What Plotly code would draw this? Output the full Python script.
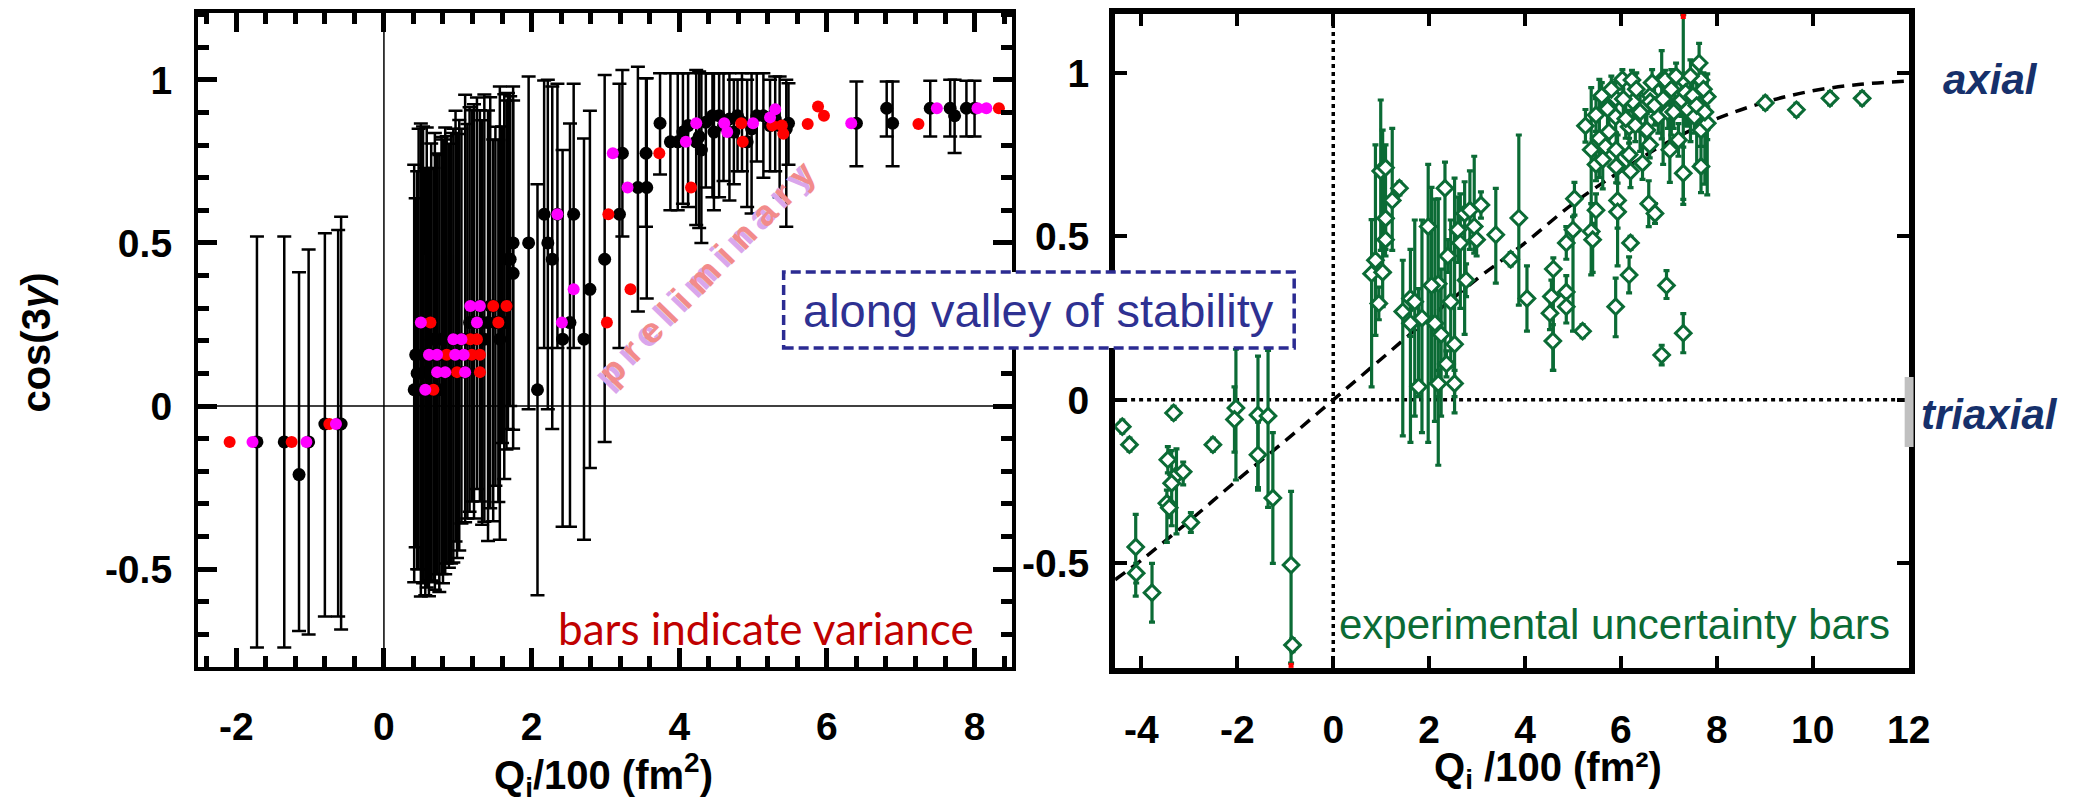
import plotly.graph_objects as go

# ---------------- LEFT PANEL DATA ----------------
# black points (with variance bars)
lb_q = [-1.72, -1.35, -1.15, -1.02, -0.80, -0.58, -0.62,
        0.41, 0.43, 0.50, 0.56, 0.61, 0.67, 0.72, 0.83, 0.85, 0.94, 0.99, 1.05, 1.10, 1.19,
        1.26, 1.30, 1.41, 1.48, 1.55, 1.57, 1.66, 1.68, 1.75, 1.75, 1.96, 2.08, 2.17, 2.22,
        2.28, 2.35, 2.42, 2.52, 2.57, 2.71, 2.79, 2.99, 3.19, 3.23, 3.44, 3.56, 3.55, 3.74,
        3.88, 3.98, 4.23, 4.27, 4.30, 4.45, 4.54, 4.47, 4.74, 4.79, 4.92, 5.05, 5.14, 5.23,
        5.48, 6.40, 6.81, 6.89, 7.40, 7.67, 7.73, 7.89, 8.00,
        0.45, 0.47, 0.53, 0.58, 0.64, 0.69, 0.75, 0.78, 0.80, 0.88, 0.91, 0.97, 1.02, 1.13,
        1.16, 1.22, 1.33, 1.36, 1.44, 1.51, 1.60, 1.63, 1.71,
        4.05, 4.12, 4.36, 4.60, 4.68, 4.85, 4.98, 5.30, 5.36, 5.45]
lb_v = [-0.11, -0.11, -0.21, -0.11, -0.055, -0.055, -0.055,
        0.05, 0.157, 0.256, 0.05, 0.157, 0.05, 0.104, 0.104, 0.157, 0.205, 0.104, 0.205, 0.104, 0.157,
        0.256, 0.307, 0.256, 0.307, 0.256, 0.205, 0.307, 0.45, 0.50, 0.407, 0.50, 0.05, 0.588, 0.50,
        0.45, 0.588, 0.205, 0.256, 0.588, 0.205, 0.358, 0.45, 0.588, 0.775, 0.67, 0.67, 0.775, 0.867,
        0.81, 0.81, 0.81, 0.826, 0.785, 0.89, 0.89, 0.84, 0.84, 0.89, 0.81, 0.89, 0.89, 0.86,
        0.867, 0.867, 0.913, 0.867, 0.913, 0.913, 0.89, 0.913, 0.913,
        0.10, 0.05, 0.157, 0.104, 0.205, 0.157, 0.05, 0.205, 0.157, 0.104, 0.157, 0.205, 0.157, 0.205,
        0.256, 0.205, 0.256, 0.205, 0.307, 0.256, 0.307, 0.256, 0.45,
        0.84, 0.86, 0.87, 0.86, 0.88, 0.87, 0.85, 0.88, 0.86, 0.85]
lb_up = [0.63, 0.63, 0.62, 0.59, 0.585, 0.635, 0.595,
         0.69, 0.48, 0.61, 0.68, 0.57, 0.68, 0.67, 0.75, 0.67, 0.645, 0.73, 0.645, 0.85, 0.75,
         0.69, 0.60, 0.65, 0.51, 0.56, 0.775, 0.63, 0.51, 0.48, 0.53, 0.51, 0.63, 0.41, 0.50,
         0.53, 0.40, 0.58, 0.61, 0.40, 0.615, 0.547, 0.565, 0.40, 0.255, 0.37, 0.335, 0.23, 0.153,
         0.21, 0.21, 0.22, 0.20, 0.235, 0.13, 0.13, 0.18, 0.16, 0.11, 0.19, 0.13, 0.13, 0.14,
         0.123, 0.128, 0.082, 0.128, 0.084, 0.087, 0.11, 0.084, 0.084,
         0.62, 0.80, 0.70, 0.75, 0.60, 0.68, 0.72, 0.62, 0.66, 0.70, 0.68, 0.70, 0.72, 0.66,
         0.66, 0.72, 0.62, 0.75, 0.64, 0.60, 0.55, 0.70, 0.50,
         0.18, 0.16, 0.15, 0.16, 0.14, 0.15, 0.17, 0.13, 0.15, 0.15]
lb_dn = [0.63, 0.63, 0.48, 0.59, 0.59, 0.63, 0.59,
         0.59, 0.59, 0.84, 0.63, 0.74, 0.59, 0.62, 0.62, 0.64, 0.685, 0.57, 0.565, 0.46, 0.45,
         0.51, 0.60, 0.67, 0.66, 0.55, 0.615, 0.44, 0.52, 0.63, 0.48, 0.51, 0.63, 0.41, 0.51,
         0.52, 0.41, 0.575, 0.626, 0.41, 0.615, 0.548, 0.56, 0.41, 0.255, 0.38, 0.34, 0.225, 0.157,
         0.21, 0.21, 0.255, 0.28, 0.285, 0.25, 0.25, 0.24, 0.16, 0.17, 0.20, 0.14, 0.19, 0.14,
         0.127, 0.132, 0.087, 0.132, 0.087, 0.087, 0.114, 0.087, 0.087,
         0.60, 0.55, 0.70, 0.66, 0.74, 0.72, 0.62, 0.72, 0.70, 0.60, 0.64, 0.62, 0.60, 0.55,
         0.58, 0.55, 0.62, 0.56, 0.62, 0.50, 0.42, 0.48, 0.45,
         0.22, 0.25, 0.20, 0.17, 0.25, 0.15, 0.26, 0.16, 0.22, 0.30]

# red points
lr_q = [-2.09, -1.25, -0.74, 0.67, 0.63, 0.85, 1.19, 1.30, 0.99, 1.30, 1.17, 1.26, 1.55, 1.48,
        1.66, 3.04, 3.02, 3.34, 3.73, 4.16, 4.84, 4.86, 5.26, 5.39, 5.41, 5.74, 5.88, 5.96,
        7.24, 8.33]
lr_v = [-0.11, -0.11, -0.055, 0.05, 0.256, 0.157, 0.157, 0.157, 0.104, 0.104, 0.205, 0.205, 0.256,
        0.307, 0.307, 0.588, 0.256, 0.358, 0.775, 0.67, 0.867, 0.81, 0.86, 0.86, 0.835, 0.865,
        0.918, 0.89, 0.865, 0.913]

# magenta points
lm_q = [-1.78, -1.05, -0.65, 0.56, 0.50, 0.61, 0.72, 0.965, 1.08, 0.72, 0.83, 1.10, 0.94, 1.05,
        1.26, 1.17, 1.30, 2.35, 2.57, 2.41, 3.10, 3.30, 4.09, 4.23, 4.61, 4.65, 5.00, 5.23, 5.30,
        6.33, 7.49, 8.04, 8.16]
lm_v = [-0.11, -0.11, -0.055, 0.05, 0.256, 0.157, 0.157, 0.157, 0.157, 0.104, 0.104, 0.104, 0.205,
        0.205, 0.256, 0.307, 0.307, 0.588, 0.358, 0.256, 0.775, 0.67, 0.81, 0.867, 0.867, 0.84,
        0.867, 0.885, 0.91, 0.867, 0.913, 0.913, 0.913]

# ---------------- RIGHT PANEL DATA ----------------
r_q = [-4.40, -4.25, -3.33, -3.45, -3.27, -3.37, -3.13, -3.47, -3.42, -2.97, -2.51, -4.12, -4.11,
       -3.78, -2.03, -2.06, -1.57, -1.57, -1.36, -1.26, -0.88, -0.85,
       0.80, 0.88, 0.99, 1.03, 0.95, 1.09, 1.09, 1.09, 1.23, 1.38, 1.45, 1.61, 1.61, 1.78, 1.98,
       2.12, 2.19, 2.19, 2.33, 2.36, 2.39, 2.53, 2.53, 2.60, 2.74, 2.77, 2.94, 2.99, 3.08, 3.39,
       3.70, 3.87, 4.04, 4.59, 4.55, 4.52, 4.58, 4.86, 4.86, 4.86, 5.03, 5.00, 5.20, 5.38, 5.48,
       5.41, 5.89, 6.17, 6.20, 6.58, 6.71, 6.95, 6.85, 7.30, 5.93, 5.93, 5.93,
       5.26, 5.38, 5.48, 5.48, 5.55, 5.68, 5.89, 5.89, 5.90, 5.90, 6.03, 6.17, 6.17, 6.20, 6.23,
       6.25, 6.45, 6.51, 6.54, 6.61, 6.61, 6.78, 6.85, 6.92, 6.98, 6.98, 7.02, 7.20, 7.26, 7.30,
       7.30, 7.39, 7.53, 7.63, 7.67, 7.67, 7.67, 7.80, 7.80,
       9.01, 9.66, 10.36, 11.03,
       5.60, 5.72, 5.80, 6.05, 6.10, 6.32, 6.40, 6.65, 6.70, 6.88, 7.05, 7.10, 7.15, 7.35, 7.45,
       7.50, 7.58, 7.72, 7.75, 6.30, 5.75, 5.62, 6.60,
       1.70, 1.85, 2.05, 2.25, 2.45, 2.65, 2.85]
r_v = [-0.082, -0.137, -0.04, -0.183, -0.23, -0.255, -0.22, -0.316, -0.33, -0.375, -0.137, -0.45,
       -0.53, -0.59, -0.025, -0.06, -0.046, -0.168, -0.049, -0.30, -0.505, -0.75,
       0.386, 0.427, 0.70, 0.39, 0.295, 0.71, 0.555, 0.49, 0.61, 0.647, 0.27, 0.31, 0.234, 0.04,
       0.53, 0.234, 0.355, 0.05, 0.647, 0.11, 0.44, 0.17, 0.05, 0.52, 0.57, 0.366, 0.53, 0.49,
       0.596, 0.505, 0.43, 0.556, 0.31, 0.40, 0.316, 0.265, 0.18, 0.48, 0.33, 0.285, 0.615, 0.52,
       0.21, 0.515, 0.58, 0.49, 0.285, 0.382, 0.48, 0.60, 0.57, 0.35, 0.137, 0.204, 0.61, 0.575,
       0.713,
       0.838, 0.765, 0.72, 0.871, 0.80, 0.775, 0.922, 0.866, 0.765, 0.714, 0.98, 0.835, 0.75, 0.699,
       0.978, 0.912, 0.724, 0.825, 0.825, 0.93, 0.912, 0.866, 0.978, 0.978, 0.927, 0.88, 0.765,
       0.795, 0.917, 0.978, 0.693, 0.887, 0.866, 1.03, 0.978, 0.825, 0.714, 0.846, 0.927,
       0.908, 0.887, 0.922, 0.922,
       0.93, 0.89, 0.95, 0.92, 0.86, 0.95, 0.88, 0.97, 0.90, 0.92, 0.95, 0.88, 0.99, 0.94, 0.99,
       0.93, 0.90, 0.95, 0.88, 0.84, 0.82, 0.735, 0.78,
       0.30, 0.25, 0.35, 0.20, 0.30, 0.48, 0.58]
r_up = [0.02, 0.02, 0.02, 0.04, 0.08, 0.10, 0.03, 0.04, 0.03, 0.03, 0.02, 0.10, 0.03, 0.09, 0.18,
        0.10, 0.18, 0.10, 0.20, 0.20, 0.225, 0.02,
        0.165, 0.353, 0.217, 0.435, 0.05, 0.07, 0.05, 0.05, 0.22, 0.02, 0.157, 0.15, 0.04, 0.30,
        0.19, 0.38, 0.26, 0.04, 0.08, 0.04, 0.05, 0.508, 0.04, 0.10, 0.097, 0.05, 0.215, 0.05,
        0.04, 0.142, 0.02, 0.254, 0.10, 0.034, 0.05, 0.05, 0.05, 0.05, 0.05, 0.05, 0.05, 0.04,
        0.02, 0.085, 0.05, 0.05, 0.087, 0.055, 0.02, 0.07, 0.03, 0.045, 0.03, 0.06, 0.20, 0.05,
        0.05,
        0.05, 0.19, 0.05, 0.05, 0.18, 0.05, 0.05, 0.05, 0.05, 0.05, 0.03, 0.05, 0.05, 0.05, 0.03,
        0.05, 0.05, 0.05, 0.05, 0.03, 0.03, 0.05, 0.09, 0.03, 0.05, 0.05, 0.09, 0.05, 0.05, 0.20,
        0.08, 0.05, 0.05, 0.06, 0.05, 0.05, 0.11, 0.05, 0.07,
        0.02, 0.02, 0.02, 0.02,
        0.04, 0.05, 0.04, 0.05, 0.06, 0.05, 0.06, 0.04, 0.06, 0.05, 0.06, 0.05, 0.04, 0.05, 0.05,
        0.06, 0.07, 0.05, 0.08, 0.05, 0.05, 0.05, 0.04,
        0.25, 0.30, 0.30, 0.20, 0.25, 0.15, 0.12]
r_dn = [0.02, 0.02, 0.02, 0.04, 0.18, 0.13, 0.04, 0.12, 0.03, 0.03, 0.02, 0.15, 0.03, 0.09, 0.22,
        0.10, 0.23, 0.10, 0.28, 0.20, 0.30, 0.02,
        0.346, 0.23, 0.243, 0.105, 0.05, 0.25, 0.05, 0.05, 0.153, 0.02, 0.38, 0.44, 0.04, 0.03,
        0.66, 0.30, 0.555, 0.04, 0.537, 0.04, 0.05, 0.21, 0.04, 0.10, 0.37, 0.05, 0.081, 0.05,
        0.04, 0.148, 0.02, 0.266, 0.10, 0.31, 0.05, 0.05, 0.09, 0.05, 0.05, 0.05, 0.05, 0.31,
        0.02, 0.133, 0.07, 0.10, 0.092, 0.055, 0.02, 0.07, 0.03, 0.04, 0.03, 0.06, 0.20, 0.05,
        0.05,
        0.05, 0.25, 0.05, 0.05, 0.12, 0.05, 0.05, 0.05, 0.05, 0.05, 0.03, 0.05, 0.05, 0.05, 0.03,
        0.05, 0.05, 0.05, 0.05, 0.03, 0.03, 0.05, 0.18, 0.03, 0.05, 0.05, 0.10, 0.05, 0.05, 0.38,
        0.08, 0.05, 0.05, 0.10, 0.05, 0.05, 0.08, 0.05, 0.30,
        0.02, 0.02, 0.02, 0.02,
        0.04, 0.08, 0.04, 0.05, 0.06, 0.05, 0.12, 0.04, 0.06, 0.20, 0.14, 0.05, 0.04, 0.10, 0.20,
        0.06, 0.18, 0.05, 0.22, 0.05, 0.05, 0.09, 0.04,
        0.35, 0.35, 0.30, 0.25, 0.20, 0.20, 0.12]

# red end markers (clipped bars)
rr_q = [7.30, -0.88]
rr_v = [1.172, -0.812]

# dashed trend curve
c_q = [-4.55, -4, -3, -2, -1, 0, 1, 2, 3, 4, 5, 6, 7, 8, 9, 10, 11, 12]
c_v = [-0.55, -0.49, -0.37, -0.245, -0.125, 0.0, 0.125, 0.25, 0.37, 0.48, 0.60, 0.70, 0.79,
       0.86, 0.91, 0.945, 0.965, 0.975]

W, H = 2083, 803
GREEN = "#0b6b35"
FONT = "Liberation Sans, Arial, sans-serif"


def px(x):
    return x / W


def py(y):
    return 1 - y / H


fig = go.Figure()

# left panel traces
fig.add_trace(go.Scatter(
    x=lb_q, y=lb_v, mode="markers", xaxis="x", yaxis="y",
    marker=dict(color="black", size=13),
    error_y=dict(type="data", symmetric=False, array=lb_up, arrayminus=lb_dn,
                 color="black", thickness=2.5, width=7),
    showlegend=False))
fig.add_trace(go.Scatter(
    x=lr_q, y=lr_v, mode="markers", xaxis="x", yaxis="y",
    marker=dict(color="#ff0000", size=12), showlegend=False))
fig.add_trace(go.Scatter(
    x=lm_q, y=lm_v, mode="markers", xaxis="x", yaxis="y",
    marker=dict(color="#ff00ff", size=12), showlegend=False))

# right panel traces
fig.add_trace(go.Scatter(
    x=c_q, y=c_v, mode="lines", xaxis="x2", yaxis="y2",
    line=dict(color="black", width=3.5, dash="12px,8px", shape="spline"),
    showlegend=False))
fig.add_trace(go.Scatter(
    x=r_q, y=r_v, mode="markers", xaxis="x2", yaxis="y2",
    marker=dict(symbol="diamond", color="white", size=12,
                line=dict(color=GREEN, width=3)),
    error_y=dict(type="data", symmetric=False, array=r_up, arrayminus=r_dn,
                 color=GREEN, thickness=3.2, width=3),
    showlegend=False))
fig.add_trace(go.Scatter(
    x=rr_q, y=rr_v, mode="markers", xaxis="x2", yaxis="y2",
    marker=dict(symbol="square", color="#ff0000", size=5), showlegend=False))

tickfont = dict(family=FONT, size=39, color="black", weight="bold")

fig.update_layout(
    width=W, height=H,
    margin=dict(l=0, r=0, t=0, b=0),
    paper_bgcolor="white", plot_bgcolor="white",
    xaxis=dict(domain=[px(200), px(1023)], range=[-2.52, 8.51],
               tickvals=[-2, 0, 2, 4, 6, 8], ticktext=["-2", "0", "2", "4", "6", "8"],
               ticks="inside", ticklen=19, tickwidth=4.5, tickcolor="black",
               showline=True, linewidth=4, linecolor="black", mirror="allticks",
               minor=dict(ticks="inside", ticklen=11, tickwidth=4.5, dtick=0.4, tick0=0,
                          tickcolor="black", showgrid=False),
               showgrid=False, zeroline=False, tickfont=tickfont,
               ticklabelstandoff=22, anchor="y"),
    yaxis=dict(domain=[py(667), py(13)], range=[-0.80, 1.205],
               tickvals=[-0.5, 0, 0.5, 1], ticktext=["-0.5", "0", "0.5", "1"],
               ticks="inside", ticklen=19, tickwidth=4.5, tickcolor="black",
               showline=True, linewidth=4, linecolor="black", mirror="allticks",
               minor=dict(ticks="inside", ticklen=11, tickwidth=4.5, dtick=0.1, tick0=0,
                          tickcolor="black", showgrid=False),
               showgrid=False, zeroline=False, tickfont=tickfont,
               ticklabelstandoff=14, anchor="x"),
    xaxis2=dict(domain=[px(1127), px(1929)], range=[-4.55, 12],
                tickvals=[-4, -2, 0, 2, 4, 6, 8, 10, 12],
                ticktext=["-4", "-2", "0", "2", "4", "6", "8", "10", "12"],
                ticks="inside", ticklen=12, tickwidth=4, tickcolor="black",
                showline=True, linewidth=6, linecolor="black", mirror="allticks",
                showgrid=False, zeroline=False, tickfont=tickfont,
                ticklabelstandoff=22, anchor="y2"),
    yaxis2=dict(domain=[py(668), py(14)], range=[-0.82, 1.18],
                tickvals=[-0.5, 0, 0.5, 1], ticktext=["-0.5", "0", "0.5", "1"],
                ticks="inside", ticklen=12, tickwidth=4, tickcolor="black",
                showline=True, linewidth=6, linecolor="black", mirror="allticks",
                showgrid=False, zeroline=False, tickfont=tickfont,
                ticklabelstandoff=12, anchor="x2"),
)

shapes = [
    # left panel zero lines
    dict(type="line", xref="x", yref="y domain", x0=0, x1=0, y0=0, y1=1,
         line=dict(color="black", width=1.5), layer="below"),
    dict(type="line", xref="x domain", yref="y", x0=0, x1=1, y0=0, y1=0,
         line=dict(color="black", width=1.5), layer="below"),
    # right panel dotted lines
    dict(type="line", xref="x2", yref="y2 domain", x0=0, x1=0, y0=0, y1=1,
         line=dict(color="black", width=3.5, dash="4px,4px"), layer="below"),
    dict(type="line", xref="x2 domain", yref="y2", x0=0, x1=1, y0=0, y1=0,
         line=dict(color="black", width=3.5, dash="4px,4px"), layer="below"),
    # gray patch on right frame near 'triaxial'
    dict(type="rect", xref="paper", yref="paper", x0=px(1925), x1=px(1934),
         y0=py(447), y1=py(377), fillcolor="#c0c0c0", line=dict(width=0), layer="above"),
    # dashed box
    dict(type="rect", xref="paper", yref="paper", x0=px(792), x1=px(1308),
         y0=py(348), y1=py(272), fillcolor="white",
         line=dict(color="#2b2b92", width=3.5, dash="10px,5px"), layer="above"),
]

annotations = [
    dict(text="cos(3<i>γ</i>)", x=px(36), y=py(343), textangle=-90,
         font=dict(family=FONT, size=40, color="black", weight="bold")),
    dict(text="Q<sub>i</sub>/100 (fm<sup>2</sup>)", x=px(610), y=py(775),
         font=dict(family=FONT, size=40, color="black", weight="bold")),
    dict(text="Q<sub>i</sub> /100 (fm²)", x=px(1565), y=py(770),
         font=dict(family=FONT, size=40, color="black", weight="bold")),
    dict(text="bars indicate variance", x=px(774), y=py(628),
         font=dict(family="Lato, Noto Sans, sans-serif", size=44, color="#c00000")),
    dict(text="experimental uncertainty bars", x=px(1632), y=py(624),
         font=dict(family=FONT, size=42, color=GREEN)),
    dict(text="p r e l i m i n a r y", x=px(709), y=py(276), textangle=-46,
         font=dict(family=FONT, size=36, color="#d9a6ec", weight="bold")),
    dict(text="p r e l i m i n a r y", x=px(714), y=py(272), textangle=-46,
         font=dict(family=FONT, size=36, color="#f28b8b", weight="bold")),
    dict(text="along valley of stability", x=px(1050), y=py(310),
         font=dict(family=FONT, size=47, color="#2e3192")),
    dict(text="<i>axial</i>", x=px(1962), y=py(80), xanchor="left",
         font=dict(family=FONT, size=42, color="#16306b", weight="bold")),
    dict(text="<i>triaxial</i>", x=px(1939), y=py(415), xanchor="left",
         font=dict(family=FONT, size=42, color="#16306b", weight="bold")),
]
for a in annotations:
    a.setdefault("xref", "paper")
    a.setdefault("yref", "paper")
    a.setdefault("showarrow", False)
    a.setdefault("xanchor", "center")
    a.setdefault("yanchor", "middle")

fig.update_layout(shapes=shapes, annotations=annotations)
fig.write_html("out.html")
